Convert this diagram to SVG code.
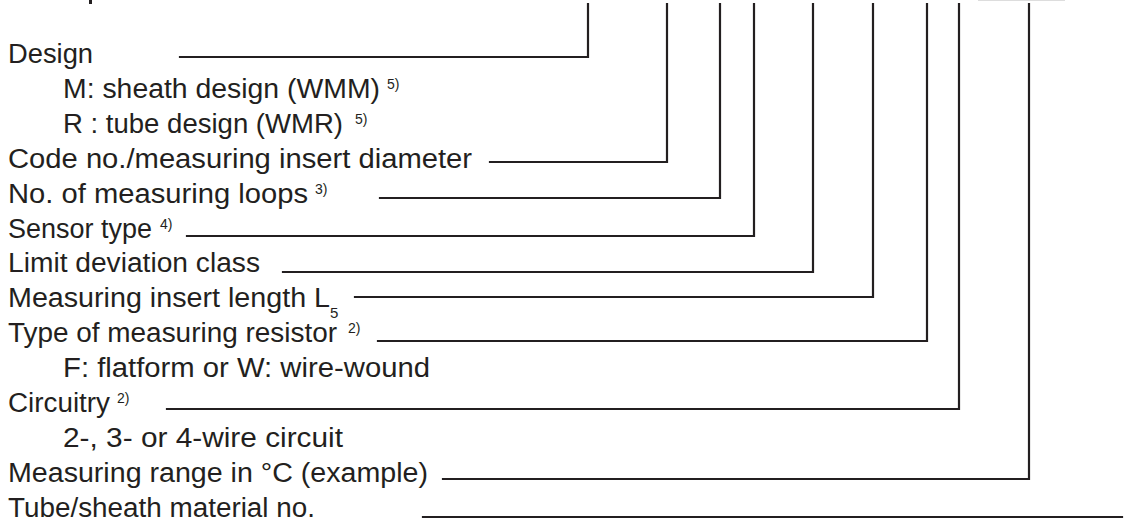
<svg xmlns="http://www.w3.org/2000/svg" width="1126" height="520" viewBox="0 0 1126 520">
  <style>
    text { font-family: "Liberation Sans", Arial, sans-serif; fill: #231f20; }
    .t { font-size: 27px; }
    .sup { font-size: 14px; }
    .sub { font-size: 15px; }
    .c { fill: none; stroke: #231f20; stroke-width: 2.2; stroke-linecap: square; stroke-linejoin: miter; }
  </style>
  <rect width="1126" height="520" fill="#ffffff"/>
  <rect x="89" y="0" width="3" height="4" fill="#231f20"/>
  <line x1="978" y1="0.5" x2="1065" y2="0.5" stroke="#dddddd" stroke-width="1.2"/>

  <g id="connectors">
    <path class="c" d="M180,57 H588 V4"/>
    <path class="c" d="M490,162 H667 V4"/>
    <path class="c" d="M380,198 H720 V4"/>
    <path class="c" d="M187,236 H754 V4"/>
    <path class="c" d="M283,272 H813 V4"/>
    <path class="c" d="M355,297 H873 V4"/>
    <path class="c" d="M378,341 H927 V4"/>
    <path class="c" d="M167,409 H959 V4"/>
    <path class="c" d="M443,479 H1029 V4"/>
    <path class="c" d="M423,517 H1122"/>
  </g>

  <g id="design">
    <text class="t" x="8" y="63" textLength="85" lengthAdjust="spacingAndGlyphs">Design</text>
    <text class="t" x="63" y="98" textLength="317" lengthAdjust="spacingAndGlyphs">M: sheath design (WMM)</text>
    <text class="sup" x="387" y="89">5)</text>
    <text class="t" x="63" y="133" textLength="280" lengthAdjust="spacingAndGlyphs">R : tube design (WMR)</text>
    <text class="sup" x="355" y="124">5)</text>
  </g>
  <g id="code-no">
    <text class="t" x="8" y="168" textLength="464" lengthAdjust="spacingAndGlyphs">Code no./measuring insert diameter</text>
  </g>
  <g id="loops">
    <text class="t" x="8" y="203" textLength="300" lengthAdjust="spacingAndGlyphs">No. of measuring loops</text>
    <text class="sup" x="315" y="194">3)</text>
  </g>
  <g id="sensor-type">
    <text class="t" x="8" y="238" textLength="144" lengthAdjust="spacingAndGlyphs">Sensor type</text>
    <text class="sup" x="160" y="229">4)</text>
  </g>
  <g id="limit-class">
    <text class="t" x="8" y="272" textLength="252" lengthAdjust="spacingAndGlyphs">Limit deviation class</text>
  </g>
  <g id="insert-length">
    <text class="t" x="8" y="307" textLength="322" lengthAdjust="spacingAndGlyphs">Measuring insert length L</text>
    <text class="sub" x="330" y="318">5</text>
  </g>
  <g id="resistor-type">
    <text class="t" x="8" y="342" textLength="329" lengthAdjust="spacingAndGlyphs">Type of measuring resistor</text>
    <text class="sup" x="348" y="333">2)</text>
    <text class="t" x="63" y="377" textLength="367" lengthAdjust="spacingAndGlyphs">F: flatform or W: wire-wound</text>
  </g>
  <g id="circuitry">
    <text class="t" x="8" y="412" textLength="102" lengthAdjust="spacingAndGlyphs">Circuitry</text>
    <text class="sup" x="117" y="403">2)</text>
    <text class="t" x="63" y="447" textLength="280" lengthAdjust="spacingAndGlyphs">2-, 3- or 4-wire circuit</text>
  </g>
  <g id="range">
    <text class="t" x="8" y="482" textLength="420" lengthAdjust="spacingAndGlyphs">Measuring range in °C (example)</text>
  </g>
  <g id="material">
    <text class="t" x="8" y="517" textLength="307" lengthAdjust="spacingAndGlyphs">Tube/sheath material no.</text>
  </g>
</svg>
